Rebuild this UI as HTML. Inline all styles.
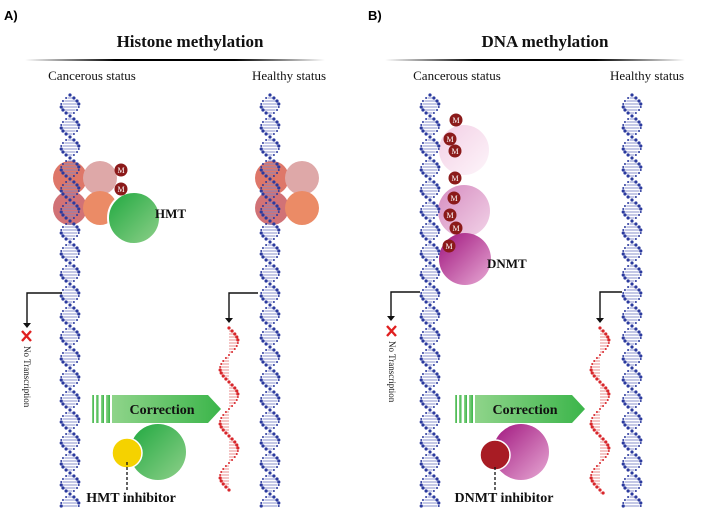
<!DOCTYPE html>
<html><head><meta charset="utf-8"><style>
body{margin:0;background:#fff;width:707px;height:527px;overflow:hidden}
svg{display:block}
.t{font-family:"Liberation Serif",serif;fill:#111}
</style></head><body>
<svg id="s" width="707" height="527" viewBox="0 0 707 527" xmlns="http://www.w3.org/2000/svg">
<defs>
<linearGradient id="ul" x1="0" x2="1"><stop offset="0" stop-color="#000" stop-opacity="0"/><stop offset=".3" stop-color="#000"/><stop offset=".7" stop-color="#000"/><stop offset="1" stop-color="#000" stop-opacity="0"/></linearGradient>
<linearGradient id="gr" x1="0" y1="0" x2="1" y2="1"><stop offset="0" stop-color="#1fa83f"/><stop offset="1" stop-color="#8fd08a"/></linearGradient>
<linearGradient id="ar" x1="0" x2="1"><stop offset="0" stop-color="#8fd48a"/><stop offset="1" stop-color="#3bb54a"/></linearGradient>
<linearGradient id="mg" x1="0" y1="0" x2="1" y2="1"><stop offset="0" stop-color="#a0157e"/><stop offset="1" stop-color="#e7a9d4"/></linearGradient>
<linearGradient id="mg2" x1="0" y1="0" x2="1" y2="1"><stop offset="0" stop-color="#d68cc0"/><stop offset="1" stop-color="#f2d3e8"/></linearGradient>
<linearGradient id="mg3" x1="0" y1="0" x2="1" y2="1"><stop offset="0" stop-color="#f3cfe5"/><stop offset="1" stop-color="#fdf5fa"/></linearGradient>
</defs>
<text x="4" y="20" font-family="Liberation Sans,sans-serif" font-weight="bold" font-size="13">A)</text>
<text x="368" y="20" font-family="Liberation Sans,sans-serif" font-weight="bold" font-size="13">B)</text>
<text class="t" x="190" y="47" font-size="17" text-anchor="middle" font-weight="bold">Histone methylation</text>
<text class="t" x="545" y="47" font-size="17" text-anchor="middle" font-weight="bold">DNA methylation</text>
<rect x="25" y="59" width="300" height="2" fill="url(#ul)"/>
<rect x="385" y="59" width="300" height="2" fill="url(#ul)"/>
<text class="t" x="92" y="80" font-size="13" text-anchor="middle">Cancerous status</text>
<text class="t" x="289" y="80" font-size="13" text-anchor="middle">Healthy status</text>
<text class="t" x="457" y="80" font-size="13" text-anchor="middle">Cancerous status</text>
<text class="t" x="647" y="80" font-size="13" text-anchor="middle">Healthy status</text>
<g opacity="0.85">
<circle cx="70" cy="178" r="17" fill="#d9604f"/>
<circle cx="100" cy="178" r="17" fill="#d99a9a"/>
<circle cx="70" cy="208" r="17" fill="#c95a5f"/>
<circle cx="100" cy="208" r="17" fill="#e8774c"/>
<circle cx="272" cy="178" r="17" fill="#d9604f"/>
<circle cx="302" cy="178" r="17" fill="#d99a9a"/>
<circle cx="272" cy="208" r="17" fill="#c95a5f"/>
<circle cx="302" cy="208" r="17" fill="#e8774c"/>
</g>
<circle cx="464" cy="150" r="25" fill="url(#mg3)"/>
<circle cx="464" cy="211" r="26" fill="url(#mg2)"/>
<circle cx="465" cy="259" r="26" fill="url(#mg)"/>
<g id="dna"></g>
<circle cx="134" cy="218" r="26" fill="url(#gr)" stroke="#fff" stroke-width="2"/>
<g id="mA"></g>
<text class="t" x="155" y="218" font-size="13" font-weight="bold">HMT</text>
<text class="t" x="487" y="268" font-size="13" font-weight="bold">DNMT</text>
<g fill="none" stroke="#111" stroke-width="1.4">
<path d="M62 293H27V325"/><path d="M258 293H229V320"/>
<path d="M420 292H391V318"/><path d="M622 292H600V320"/>
</g>
<g fill="#111"><path d="M23 323h8l-4 5z"/><path d="M225 318h8l-4 5z"/><path d="M387 316h8l-4 5z"/><path d="M596 318h8l-4 5z"/></g>
<g stroke="#e02020" stroke-width="2.4"><path d="M22 331l9 10M31 331l-9 10M387 326l9 10M396 326l-9 10"/></g>
<text class="t" font-size="9" transform="translate(24,346) rotate(90)">No Transcription</text>
<text class="t" font-size="9" transform="translate(389,341) rotate(90)">No Transcription</text>
<g fill="url(#ar)">
<rect x="92" y="395" width="2" height="28"/><rect x="96" y="395" width="2.5" height="28"/><rect x="101" y="395" width="3" height="28"/><rect x="106" y="395" width="4" height="28"/>
<path d="M112 395H208L221 409L208 423H112Z"/>
<rect x="455" y="395" width="2" height="28"/><rect x="459" y="395" width="2.5" height="28"/><rect x="464" y="395" width="3" height="28"/><rect x="469" y="395" width="4" height="28"/>
<path d="M475 395H572L585 409L572 423H475Z"/>
</g>
<text class="t" x="162" y="414" font-size="14" font-weight="bold" text-anchor="middle">Correction</text>
<text class="t" x="525" y="414" font-size="14" font-weight="bold" text-anchor="middle">Correction</text>
<circle cx="158" cy="452" r="28" fill="url(#gr)"/>
<circle cx="127" cy="453" r="15" fill="#f5d200" stroke="#fff" stroke-width="1.5"/>
<circle cx="521" cy="452" r="28" fill="url(#mg)"/>
<circle cx="495" cy="455" r="15" fill="#a81c24" stroke="#fff" stroke-width="1.5"/>
<path d="M127 462V490M495 467V490" stroke="#111" stroke-dasharray="3,2" stroke-width="1.3"/>
<text class="t" x="131" y="502" font-size="14" font-weight="bold" text-anchor="middle">HMT inhibitor</text>
<text class="t" x="504" y="502" font-size="14" font-weight="bold" text-anchor="middle">DNMT inhibitor</text>
</svg>
<script>
var NS="http://www.w3.org/2000/svg",g=document.getElementById('dna');
function el(n,a,p){var e=document.createElementNS(NS,n);for(var k in a)e.setAttribute(k,a[k]);(p||g).appendChild(e);return e;}
function helix(cx,y0,y1,col,rcol,amp,per,rna){
 for(var y=y0;y<=y1;y+=3){var ph=(y-y0)/per*2*Math.PI;var a=amp*Math.sin(ph),c=Math.cos(ph);
  if(Math.abs(a)>2.5){ if(rna) el('line',{x1:cx,x2:cx+a,y1:y,y2:y,stroke:rcol,'stroke-width':0.9});
   else el('line',{x1:cx-Math.abs(a)+1.5,x2:cx+Math.abs(a)-1.5,y1:y,y2:y,stroke:rcol,'stroke-width':0.9});}
  el('circle',{cx:cx+a,cy:y,r:c>0?1.6:1.0,fill:col});
  if(!rna)el('circle',{cx:cx-a,cy:y,r:c<0?1.6:1.0,fill:col});
 }}
helix(70,95,508,'#2b3a9e','#7b86c8',9,42);
helix(270,95,508,'#2b3a9e','#7b86c8',9,42);
helix(430,95,508,'#2b3a9e','#7b86c8',9,42);
helix(632,95,508,'#2b3a9e','#7b86c8',9,42);
helix(229,328,492,'#d8262b','#e88080',9,54,true);
helix(600,328,495,'#d8262b','#e88080',9,54,true);
var m=document.getElementById('mA');
function M(x,y){el('circle',{cx:x,cy:y,r:6.5,fill:'#8b1a1a'},m);var t=el('text',{x:x,y:y+3,'font-size':8,fill:'#fff','text-anchor':'middle','font-family':'Liberation Serif,serif'},m);t.textContent='M';}
M(121,170);M(121,189);
[[456,120],[450,139],[455,151],[455,178],[454,198],[450,215],[456,228],[449,246]].forEach(function(p){M(p[0],p[1]);});
</script>
</body></html>
